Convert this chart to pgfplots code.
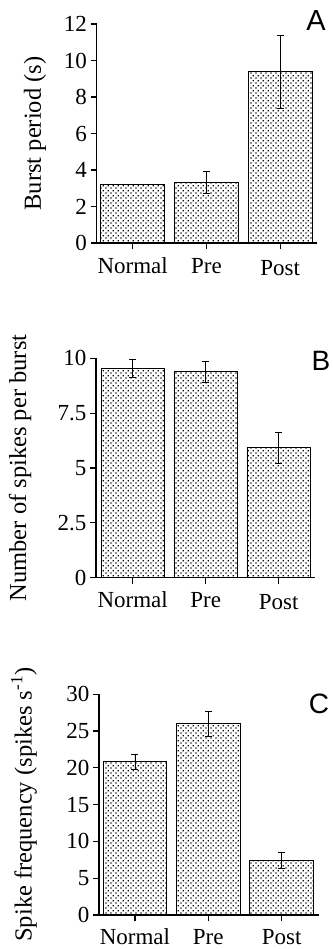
\documentclass[border=0pt]{standalone}
\usepackage{fontspec}
\setmainfont{Liberation Serif}
\newfontfamily\arialf{Liberation Sans}
\usepackage{pgfplots}
\pgfplotsset{compat=1.18}
\usetikzlibrary{patterns}
\pgfdeclarepatternformonly{bardots}{\pgfpointorigin}{\pgfpoint{5pt}{5pt}}{\pgfpoint{5pt}{5pt}}{%
 \pgfpathrectangle{\pgfpoint{0.5pt}{0.5pt}}{\pgfpoint{1.5pt}{1.5pt}}%
 \pgfpathrectangle{\pgfpoint{3pt}{3pt}}{\pgfpoint{1.5pt}{1.5pt}}%
 \pgfusepath{fill}}
\pgfplotsset{panel/.style={
  scale only axis, anchor=south west,
  axis lines=left, axis line style={-, line width=1.5pt},
  tick align=outside, major tick length=6pt, tick style={black, line width=1.2pt},
  ymin=0, xtick={0,1,2}, xticklabels={Normal,Pre,\raisebox{-2pt}{Post}},
  ticklabel style={font=\fontsize{23}{27}\selectfont},
  xticklabel style={text height=15pt, text depth=0pt, inner ysep=0pt, yshift=-9pt},
  ylabel style={font=\fontsize{24.5}{28}\selectfont, anchor=center},
  /pgf/number format/assume math mode=true,
  ybar, bar width=0.87,
}}
\pgfplotsset{bars/.style={draw=black, line width=0.9pt, pattern=bardots,
  error bars/.cd, y dir=both, y explicit,
  error bar style={line width=0.8pt, black},
  error mark options={rotate=90, mark size=3.5pt, line width=0.8pt, black}}}
\begin{document}
\begin{tikzpicture}
\useasboundingbox (0,0) rectangle (332pt,-949pt);
% Panel A
\begin{axis}[panel, at={(96.5pt,-243pt)}, width=220.5pt, height=219pt,
  xmin=-0.49, xmax=2.5, ymax=12, ytick={0,2,4,6,8,10,12},
  ylabel={Burst period (s)}, ylabel style={at={(axis description cs:-0.279,0.5)}}]
\addplot[bars] coordinates {(0,3.2) +- (0,0) (1,3.3) +- (0,0.6) (2,9.4) +- (0,2.0)};
\end{axis}
% Panel B
\begin{axis}[panel, at={(96pt,-577.7pt)}, width=219pt, height=219.4pt,
  xmin=-0.503, xmax=2.497, ymax=10, ytick={0,2.5,5,7.5,10},
  ylabel={Number of spikes per burst}, ylabel style={at={(axis description cs:-0.347,0.5)}}]
\addplot[bars] coordinates {(0,9.54) +- (0,0.4) (1,9.38) +- (0,0.5) (2,5.93) +- (0,0.7)};
\end{axis}
% Panel C
\begin{axis}[panel, at={(99pt,-915pt)}, width=220pt, height=220.7pt,
  xmin=-0.49, xmax=2.51, ymax=30, ytick={0,5,10,15,20,25,30},
  xticklabels={Normal,Pre,Post}, xticklabel style={yshift=1pt},
  ylabel={Spike frequency (spikes s\textsuperscript{-1})}, ylabel style={at={(axis description cs:-0.341,0.5)}}]
\addplot[bars] coordinates {(0,20.84) +- (0,1.0) (1,26.0) +- (0,1.7) (2,7.4) +- (0,1.1)};
\end{axis}
\node[font=\arialf\fontsize{29}{33}\selectfont] at (316pt,-21pt) {A};
\node[font=\arialf\fontsize{28}{32}\selectfont] at (321pt,-361pt) {B};
\node[font=\arialf\fontsize{28}{32}\selectfont] at (319pt,-704pt) {C};
\end{tikzpicture}
\end{document}
